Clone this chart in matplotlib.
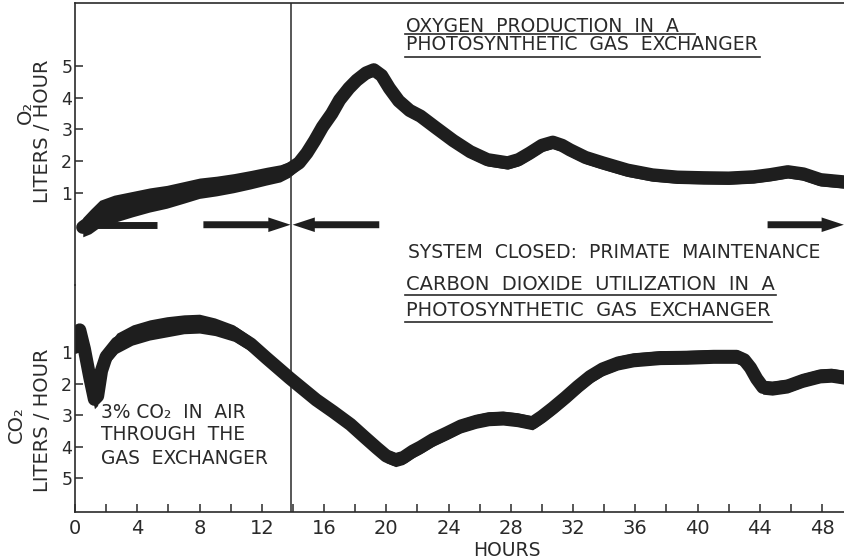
import matplotlib
matplotlib.use('Agg')
import matplotlib.pyplot as plt
from matplotlib.patches import FancyArrowPatch, ArrowStyle
from matplotlib.lines import Line2D

plt.rcParams['font.family'] = ['DejaVu Sans']

# O2 production trace (liters/hour) vs hours
o2_hours = [0.5, 1.0, 1.6, 2.5, 3.7, 4.8, 5.9, 7.0, 8.0, 9.1, 10.2, 11.3, 12.3, 13.2,
            13.8, 14.4, 14.9, 15.4, 15.9, 16.5, 17.0, 17.6, 18.1, 18.7, 19.2, 19.7,
            20.2, 20.8, 21.5, 22.2, 23.2, 24.3, 25.4, 26.5, 27.8, 28.5, 29.2, 30.0,
            30.7, 31.3, 31.8, 32.8, 33.9, 35.5, 37.1, 38.7, 40.4, 42.0, 43.6, 44.7,
            45.8, 46.8, 47.9, 49.4]
o2_values = [-0.08, 0.1, 0.35, 0.5, 0.65, 0.78, 0.88, 1.02, 1.15, 1.22, 1.31, 1.42, 1.53, 1.62,
             1.75, 1.95, 2.26, 2.65, 3.08, 3.5, 3.93, 4.3, 4.55, 4.78, 4.88, 4.7,
             4.3, 3.9, 3.6, 3.42, 3.05, 2.65, 2.3, 2.05, 1.95, 2.05, 2.25, 2.5,
             2.6, 2.5, 2.36, 2.12, 1.95, 1.72, 1.57, 1.5, 1.48, 1.47, 1.51, 1.58,
             1.67, 1.6, 1.42, 1.35]
# half-width of the recorder trace (noise band)
o2_spread = [0.3, 0.38, 0.42, 0.43, 0.4, 0.38, 0.36, 0.34, 0.32, 0.31, 0.3, 0.29, 0.28, 0.27,
             0.25, 0.2, 0.2, 0.2, 0.2, 0.2, 0.2, 0.2, 0.2, 0.2, 0.2, 0.2,
             0.2, 0.2, 0.2, 0.2, 0.2, 0.2, 0.2, 0.2, 0.2, 0.2, 0.2, 0.2,
             0.2, 0.2, 0.2, 0.2, 0.2, 0.2, 0.2, 0.2, 0.2, 0.2, 0.2, 0.2,
             0.2, 0.2, 0.2, 0.2]

# CO2 utilization trace (liters/hour) vs hours
co2_hours = [0.0, 0.3, 0.6, 0.95, 1.25, 1.45, 1.7, 2.0, 2.7, 3.7, 4.8, 5.9, 7.0, 8.0,
             9.0, 10.2, 11.3, 12.3, 13.8, 15.5, 16.6, 17.7, 18.6, 19.4, 20.0, 20.6,
             21.1, 21.7, 22.2, 23.0, 23.9, 24.8, 25.8, 26.6, 27.5, 28.4, 29.4, 30.0,
             30.7, 31.5, 32.3, 33.1, 33.9, 34.9, 35.9, 37.6, 39.3, 41.0, 42.5, 43.0,
             43.4, 43.8, 44.2, 44.8, 45.8, 46.8, 47.9, 48.6, 49.4]
co2_values = [0.85, 0.3, 0.9, 1.8, 2.5, 2.4, 1.6, 1.15, 0.72, 0.46, 0.3, 0.2, 0.12, 0.1,
              0.2, 0.4, 0.75, 1.19, 1.83, 2.52, 2.9, 3.3, 3.7, 4.05, 4.3, 4.42,
              4.35, 4.15, 4.02, 3.78, 3.57, 3.35, 3.2, 3.12, 3.1, 3.15, 3.25, 3.05,
              2.78, 2.45, 2.1, 1.78, 1.54, 1.35, 1.25, 1.18, 1.17, 1.14, 1.14, 1.25,
              1.5, 1.85, 2.12, 2.15, 2.08, 1.9, 1.76, 1.74, 1.8]
co2_spread = [0.2, 0.2, 0.25, 0.3, 0.3, 0.3, 0.3, 0.3, 0.32, 0.32, 0.32, 0.32, 0.3, 0.3,
              0.28, 0.26, 0.24, 0.22, 0.22, 0.22, 0.22, 0.22, 0.22, 0.22, 0.22, 0.22,
              0.22, 0.22, 0.22, 0.22, 0.22, 0.22, 0.22, 0.22, 0.22, 0.22, 0.22, 0.22,
              0.22, 0.22, 0.22, 0.22, 0.22, 0.22, 0.22, 0.22, 0.22, 0.22, 0.22, 0.22,
              0.22, 0.22, 0.22, 0.22, 0.22, 0.22, 0.22, 0.22, 0.22]

x_ticks = list(range(0, 49, 4))
x_minor = list(range(0, 50, 2))
y_ticks = [1, 2, 3, 4, 5]
closed_at = 13.9  # system closed

# arrows along the O2 zero line: (start, end) in hours
arrow_bar = (0.3, 5.3)
arrows = [(8.25, 13.85), (19.55, 13.98), (44.5, 49.4)]

ink = '#1e1e1e'
txt = '#2a2a2a'

W, H = 844, 559
def fx(x):
    return x / W
def fy(y):
    return 1 - y / H

fig = plt.figure(figsize=(W / 100, H / 100), dpi=100)
ax_top = fig.add_axes([fx(75), fy(285), (W - 75) / W, (285 - 3) / H])
ax_bot = fig.add_axes([fx(75), fy(512), (W - 75) / W, (512 - 285) / H])

for ax in (ax_top, ax_bot):
    ax.set_xlim(0, 49.41)
    ax.set_facecolor('none')
    ax.spines['right'].set_visible(False)
    for s in ax.spines.values():
        s.set_color(txt)
        s.set_linewidth(1.2)
    ax.axvline(closed_at, color=txt, lw=1.1)

ax_top.spines['bottom'].set_visible(False)
ax_bot.spines['top'].set_visible(False)
ax_top.set_ylim(-1.898, 6.984)
ax_bot.set_ylim(6.079, -1.127)

# traces
ax_top.fill_between(o2_hours, [v - s for v, s in zip(o2_values, o2_spread)],
                    [v + s for v, s in zip(o2_values, o2_spread)], color=ink, lw=0)
ax_top.plot(o2_hours, o2_values, color=ink, lw=9.5, solid_capstyle='round', solid_joinstyle='round')
ax_bot.fill_between(co2_hours, [v - s for v, s in zip(co2_values, co2_spread)],
                    [v + s for v, s in zip(co2_values, co2_spread)], color=ink, lw=0)
ax_bot.plot(co2_hours, co2_values, color=ink, lw=9.5, solid_capstyle='round', solid_joinstyle='round')

# ticks
ax_top.set_xticks([])
ax_top.set_yticks(y_ticks)
ax_bot.set_yticks(y_ticks)
ax_bot.set_xticks(x_ticks)
ax_bot.set_xticks(x_minor, minor=True)
for ax in (ax_top, ax_bot):
    ax.tick_params(axis='y', direction='in', length=6, width=1.1, color=txt,
                   labelsize=12.5, labelcolor=txt, pad=2)
ax_bot.tick_params(axis='x', which='both', direction='in', length=6, width=1.1, color=txt,
                   labelsize=14, labelcolor=txt, pad=5)

# arrows
ax_top.plot(arrow_bar, [0, 0], color=ink, lw=5, solid_capstyle='butt')
style = ArrowStyle.Simple(head_length=1.6, head_width=1.05, tail_width=0.5)
for a, b in arrows:
    ax_top.add_patch(FancyArrowPatch((a, 0), (b, 0), arrowstyle=style, mutation_scale=10,
                                     color=ink, lw=0, shrinkA=0, shrinkB=0, clip_on=False))

# labels
def label(x, y, s, **kw):
    kw.setdefault('fontsize', 13)
    kw.setdefault('va', 'center')
    kw.setdefault('ha', 'left')
    fig.text(fx(x), fy(y), s, color=txt, **kw)

def underline(x0, x1, y):
    fig.add_artist(Line2D([fx(x0), fx(x1)], [fy(y), fy(y)], color=txt, lw=1.2))

label(406, 26, 'OXYGEN  PRODUCTION  IN  A', fontsize=13.5)
label(406, 44, 'PHOTOSYNTHETIC  GAS  EXCHANGER', fontsize=13.5)
underline(405, 695, 33.5)
underline(405, 760, 57)

label(408, 252, 'SYSTEM  CLOSED:  PRIMATE  MAINTENANCE', fontsize=13.5)
label(406, 284, 'CARBON  DIOXIDE  UTILIZATION  IN  A', fontsize=14)
label(406, 310, 'PHOTOSYNTHETIC  GAS  EXCHANGER', fontsize=14)
underline(405, 776, 295)
underline(405, 772, 322)

label(101, 412, '3% CO₂  IN  AIR', fontsize=13.4)
label(101, 435, 'THROUGH  THE', fontsize=13.4)
label(101, 458, 'GAS  EXCHANGER', fontsize=13.4)

label(25, 112, 'O₂', rotation=90, ha='center', fontsize=14)
label(43, 131, 'LITERS / HOUR', rotation=90, ha='center', fontsize=14)
label(16, 425, 'CO₂', rotation=90, ha='center', fontsize=14)
label(42, 420, 'LITERS / HOUR', rotation=90, ha='center', fontsize=14)
label(507, 550, 'HOURS', ha='center', fontsize=13.5)

fig.savefig('out.png', dpi=100, facecolor='white')
